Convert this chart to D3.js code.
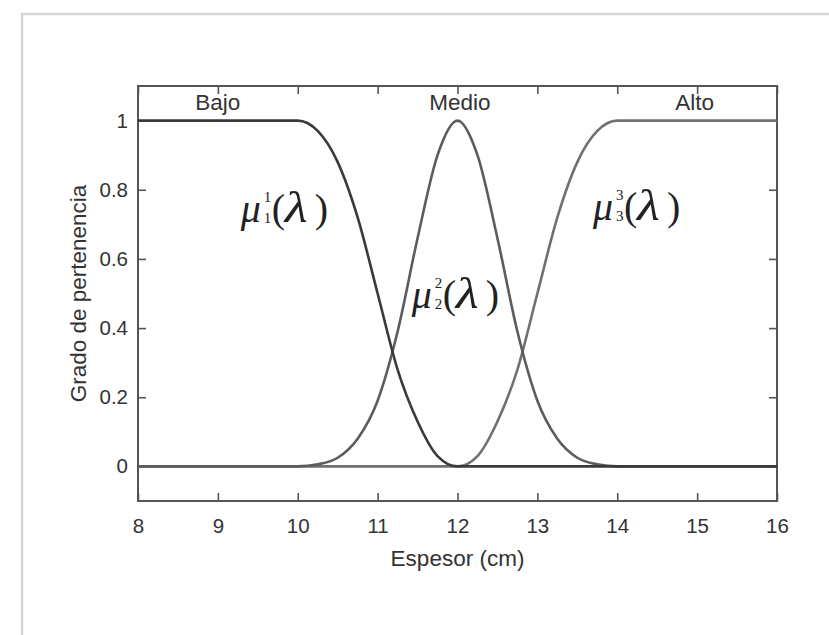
<!DOCTYPE html>
<html>
<head>
<meta charset="utf-8">
<script src="https://cdn.jsdelivr.net/npm/d3@7"></script>
<style>
  body { margin: 0; background: #fff; }
  svg { display: block; }
</style>
</head>
<body>
<div id="chart"></div>
<script>
// values
const espesor = [8, 9.5, 9.75, 10, 10.25, 10.5, 10.75, 11, 11.25, 11.5, 11.75, 12,
  12.25, 12.5, 12.75, 13, 13.25, 13.5, 13.75, 14, 14.25, 14.5, 16];
const bajo = [1, 1, 1, 1, 0.97, 0.88, 0.72, 0.5, 0.28, 0.13, 0.03, 0,
  0, 0, 0, 0, 0, 0, 0, 0, 0, 0, 0];
const medio = [0, 0, 0, 0, 0.006, 0.025, 0.08, 0.19, 0.39, 0.66, 0.9, 1,
  0.9, 0.66, 0.39, 0.19, 0.08, 0.025, 0.006, 0, 0, 0, 0];
const alto = [0, 0, 0, 0, 0, 0, 0, 0, 0, 0, 0, 0,
  0.03, 0.13, 0.28, 0.5, 0.72, 0.88, 0.97, 1, 1, 1, 1];

const xTicks = [8, 9, 10, 11, 12, 13, 14, 15, 16];
const yTicks = [0, 0.2, 0.4, 0.6, 0.8, 1];
const nombres = ['Bajo', 'Medio', 'Alto'];
const funciones = [
  { sup: '1', sub: '1' },
  { sup: '2', sub: '2' },
  { sup: '3', sub: '3' }
];

const width = 829;
const height = 635;
const margin = { top: 86, right: 52, bottom: 134, left: 138 };
const sansFont = '"Liberation Sans", Arial, Helvetica, sans-serif';
const serifFont = '"Liberation Serif", "Times New Roman", serif';

class MembershipChart {
  constructor (el) {
    this.el = el;
    this.w = width - margin.left - margin.right;
    this.h = height - margin.top - margin.bottom;
  }

  draw () {
    this.svg = d3.select(this.el).append('svg')
      .attr('width', width)
      .attr('height', height);

    // light frame around the figure
    this.svg.append('rect')
      .attr('x', 22).attr('y', 14)
      .attr('width', 900).attr('height', 800)
      .attr('fill', 'none')
      .attr('stroke', '#d5d5d5')
      .attr('stroke-width', 2.5);

    this.g = this.svg.append('g')
      .attr('transform', `translate(${margin.left}, ${margin.top})`);

    this.x = d3.scaleLinear().domain([8, 16]).range([0, this.w]);
    this.y = d3.scaleLinear().domain([-0.1, 1.1]).range([this.h, 0]);

    this._drawAxes();
    this._drawCurves();
    this._drawLabels();
    return this;
  }

  _drawAxes () {
    const styleTicks = sel => {
      sel.select('.domain').remove();
      sel.selectAll('line').attr('stroke', '#555').attr('stroke-width', 1.6);
      sel.selectAll('text')
        .attr('font-family', sansFont)
        .attr('font-size', '20.5px')
        .attr('fill', '#333');
    };

    this.g.append('g')
      .attr('transform', `translate(0, ${this.h})`)
      .call(d3.axisBottom(this.x).tickValues(xTicks).tickSize(-8).tickPadding(17))
      .call(styleTicks);

    this.g.append('g')
      .call(d3.axisTop(this.x).tickValues(xTicks).tickSize(-8).tickFormat(''))
      .call(styleTicks);

    this.g.append('g')
      .call(d3.axisLeft(this.y).tickValues(yTicks).tickSize(-8).tickPadding(10)
        .tickFormat(d3.format('~g')))
      .call(styleTicks);

    this.g.append('g')
      .attr('transform', `translate(${this.w}, 0)`)
      .call(d3.axisRight(this.y).tickValues(yTicks).tickSize(-8).tickFormat(''))
      .call(styleTicks);

    this.g.append('rect')
      .attr('width', this.w)
      .attr('height', this.h)
      .attr('fill', 'none')
      .attr('stroke', '#555')
      .attr('stroke-width', 2);

    this.g.append('text')
      .attr('x', this.w / 2)
      .attr('y', this.h + 65)
      .attr('text-anchor', 'middle')
      .attr('font-family', sansFont)
      .attr('font-size', '22.5px')
      .attr('fill', '#333')
      .text('Espesor (cm)');

    this.g.append('text')
      .attr('transform', `translate(-52, ${this.h / 2}) rotate(-90)`)
      .attr('text-anchor', 'middle')
      .attr('font-family', sansFont)
      .attr('font-size', '22.5px')
      .attr('fill', '#333')
      .text('Grado de pertenencia');
  }

  _drawCurves () {
    const series = [alto, medio, bajo];
    const colors = ['#707070', '#5c5c5c', '#3a3a3a'];
    series.forEach((values, k) => {
      const line = d3.line()
        .x((d, i) => this.x(espesor[i]))
        .y(d => this.y(d))
        .curve(d3.curveMonotoneX);
      this.g.append('path')
        .datum(values)
        .attr('d', line)
        .attr('fill', 'none')
        .attr('stroke', colors[k])
        .attr('stroke-width', 2.6);
    });
  }

  _drawLabels () {
    const centers = [9, 12.03, 14.97];
    nombres.forEach((name, i) => {
      this.g.append('text')
        .attr('x', this.x(centers[i]))
        .attr('y', this.y(1.03))
        .attr('text-anchor', 'middle')
        .attr('font-family', sansFont)
        .attr('font-size', '22.5px')
        .attr('fill', '#333')
        .text(name);
    });

    // mu_k^k(lambda) labels, glyph by glyph
    const anchors = [[9.3, 0.708], [11.44, 0.457], [13.71, 0.713]];
    funciones.forEach((f, i) => {
      const lg = this.g.append('g')
        .attr('transform', `translate(${this.x(anchors[i][0])}, ${this.y(anchors[i][1])})`)
        .attr('font-family', serifFont)
        .attr('fill', '#222');
      lg.append('text').attr('x', -1).attr('font-size', '40px')
        .attr('font-style', 'italic').text('μ');
      lg.append('text').attr('x', 22).attr('y', -20).attr('font-size', '15px').text(f.sup);
      lg.append('text').attr('x', 22).attr('y', 1).attr('font-size', '15px').text(f.sub);
      lg.append('text').attr('x', 30).attr('font-size', '40px').text('(');
      lg.append('text')
        .attr('transform', 'translate(43, 0) scale(1.2, 1)')
        .attr('font-size', '44px')
        .attr('font-style', 'italic').text('λ');
      lg.append('text').attr('x', 73).attr('font-size', '40px').text(')');
    });
  }
}

new MembershipChart(document.getElementById('chart')).draw();
</script>
</body>
</html>
